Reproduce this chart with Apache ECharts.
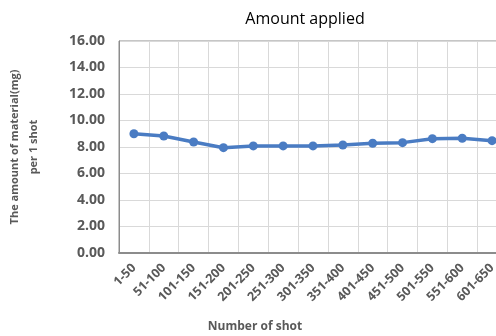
<!DOCTYPE html>
<html>
<head>
<meta charset="utf-8">
<script src="https://cdn.jsdelivr.net/npm/echarts@6/dist/echarts.min.js"></script>
<style>
  html, body { margin: 0; padding: 0; background: #fff; }
  #main { width: 496px; height: 336px; }
</style>
</head>
<body>
<div id="main"></div>
<script>
var shots = ['1-50', '51-100', '101-150', '151-200', '201-250', '251-300', '301-350',
    '351-400', '401-450', '451-500', '501-550', '551-600', '601-650'];
var amount = [9.00, 8.83, 8.38, 7.95, 8.08, 8.08, 8.08, 8.15, 8.28, 8.33, 8.63, 8.66, 8.48];
var yTicks = { min: 0, max: 16, step: 2 };

var mychart = echarts.init(document.getElementById('main'));
var font = '"Open Sans", "Liberation Sans", sans-serif';

var option = {
    animation: false,
    title: {
        text: 'Amount applied',
        left: 300,
        textAlign: 'center',
        top: 6,
        textStyle: {
            color: '#000',
            fontFamily: font,
            fontWeight: 'normal',
            fontSize: 16
        }
    },
    grid: {
        left: 119,
        top: 41,
        width: 388,
        height: 212,
        show: true,
        borderColor: '#8c8c8c',
        borderWidth: 1,
        containLabel: false,
        outerBoundsMode: 'none'
    },
    xAxis: {
        type: 'category',
        data: shots,
        boundaryGap: true,
        name: 'Number of shot',
        nameLocation: 'middle',
        nameGap: 68,
        nameTextStyle: {
            color: '#595959',
            fontFamily: font,
            fontWeight: 'bold',
            fontSize: 12,
            padding: [0, 116, 0, 0]
        },
        axisLine: { show: true, lineStyle: { color: '#8c8c8c', width: 2 } },
        axisTick: { show: false },
        splitLine: { show: true, lineStyle: { color: '#d9d9d9', width: 1 } },
        axisLabel: {
            interval: 0,
            rotate: 45,
            margin: 13,
            color: '#595959',
            fontFamily: font,
            fontWeight: 'bold',
            fontSize: 12.5
        }
    },
    yAxis: {
        type: 'value',
        min: yTicks.min,
        max: yTicks.max,
        interval: yTicks.step,
        name: 'The amount of material(mg)\nper 1 shot',
        nameLocation: 'middle',
        nameGap: 76,
        nameTextStyle: {
            color: '#595959',
            fontFamily: font,
            fontWeight: 'bold',
            fontSize: 11,
            lineHeight: 19
        },
        axisLine: { show: true, lineStyle: { color: '#8c8c8c', width: 1 } },
        axisTick: { show: false },
        splitLine: { show: true, lineStyle: { color: '#d9d9d9', width: 1 } },
        axisLabel: {
            margin: 14,
            color: '#595959',
            fontFamily: font,
            fontWeight: 'bold',
            fontSize: 14,
            formatter: function (v) { return v.toFixed(2); }
        }
    },
    series: [
        {
            name: 'Amount applied',
            type: 'line',
            data: amount,
            symbol: 'circle',
            symbolSize: 9,
            itemStyle: { color: '#4a7cc3' },
            lineStyle: { color: '#4a7cc3', width: 3.5 }
        }
    ]
};

mychart.setOption(option);
</script>
</body>
</html>
